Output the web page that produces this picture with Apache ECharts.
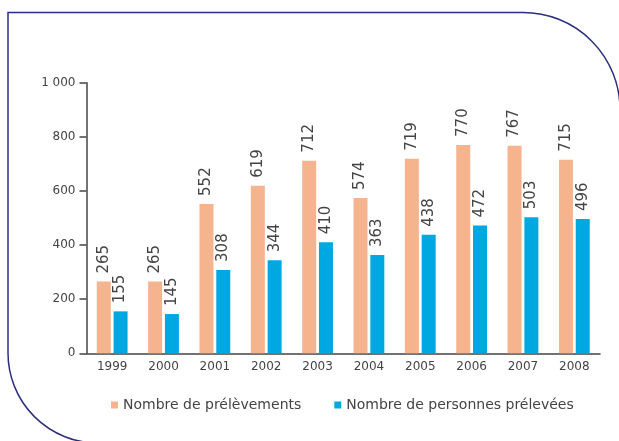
<!DOCTYPE html>
<html lang="fr">
<head>
<meta charset="utf-8">
<title>Prélèvements 1999-2008</title>
<script src="https://cdn.jsdelivr.net/npm/echarts@6/dist/echarts.min.js"></script>
<style>
  html, body { margin: 0; padding: 0; background: #fff; }
  #chart { width: 619px; height: 441px; }
</style>
</head>
<body>
<div id="chart"></div>
<script>
  var years = ['1999', '2000', '2001', '2002', '2003', '2004', '2005', '2006', '2007', '2008'];
  var prelevements = [265, 265, 552, 619, 712, 574, 719, 770, 767, 715];
  var personnes = [155, 145, 308, 344, 410, 363, 438, 472, 503, 496];
  var seriesNames = ['Nombre de prélèvements', 'Nombre de personnes prélevées'];

  var font = 'DejaVu Sans';
  var chart = echarts.init(document.getElementById('chart'));

  function barLabel() {
    return {
      show: true,
      position: 'top',
      rotate: 90,
      align: 'left',
      verticalAlign: 'middle',
      distance: 8,
      color: '#444',
      fontFamily: font,
      fontSize: 15
    };
  }

  // cadre : coin haut-gauche droit, arrondis en haut à droite et en bas à gauche
  var frameStyle = { fill: 'none', stroke: '#2d2f7e', lineWidth: 1.5 };

  chart.setOption({
    animation: false,
    graphic: [{
      type: 'polyline',
      shape: { points: [[8, 353], [8, 12.5], [523, 12.5]] },
      style: frameStyle,
      silent: true
    }, {
      type: 'arc',
      shape: { cx: 523, cy: 109.5, r: 97, startAngle: -Math.PI / 2, endAngle: 0, clockwise: true },
      style: frameStyle,
      silent: true
    }, {
      type: 'arc',
      shape: { cx: 98, cy: 353, r: 90, startAngle: Math.PI / 2, endAngle: Math.PI, clockwise: true },
      style: frameStyle,
      silent: true
    }],
    legend: {
      left: 106,
      top: 393,
      itemWidth: 7,
      itemHeight: 7,
      itemGap: 33,
      icon: 'rect',
      textStyle: { fontFamily: font, fontSize: 14, color: '#444' },
      data: seriesNames
    },
    grid: { left: 86.5, right: 19, top: 82.7, bottom: 87.7 },
    xAxis: {
      type: 'category',
      data: years,
      axisLine: { lineStyle: { color: '#444', width: 1.5 } },
      axisTick: { inside: true, length: 5, lineStyle: { color: '#444', width: 1.5 } },
      axisLabel: { margin: 8, color: '#444', fontFamily: font, fontSize: 12 }
    },
    yAxis: {
      type: 'value',
      min: 0,
      max: 1000,
      interval: 200,
      splitLine: { show: false },
      axisLine: { show: true, lineStyle: { color: '#444', width: 1.5 } },
      axisTick: { show: true, length: 7, lineStyle: { color: '#444', width: 1.5 } },
      axisLabel: {
        margin: 11,
        color: '#444',
        fontFamily: font,
        fontSize: 12,
        formatter: function (v) { return v >= 1000 ? '1 000' : String(v); }
      }
    },
    series: [{
      name: seriesNames[0],
      type: 'bar',
      data: prelevements,
      barWidth: 14,
      barGap: '20%',
      itemStyle: { color: '#f5b38e' },
      label: barLabel()
    }, {
      name: seriesNames[1],
      type: 'bar',
      data: personnes,
      barWidth: 14,
      itemStyle: { color: '#00a8e1' },
      label: barLabel()
    }]
  });
</script>
</body>
</html>
